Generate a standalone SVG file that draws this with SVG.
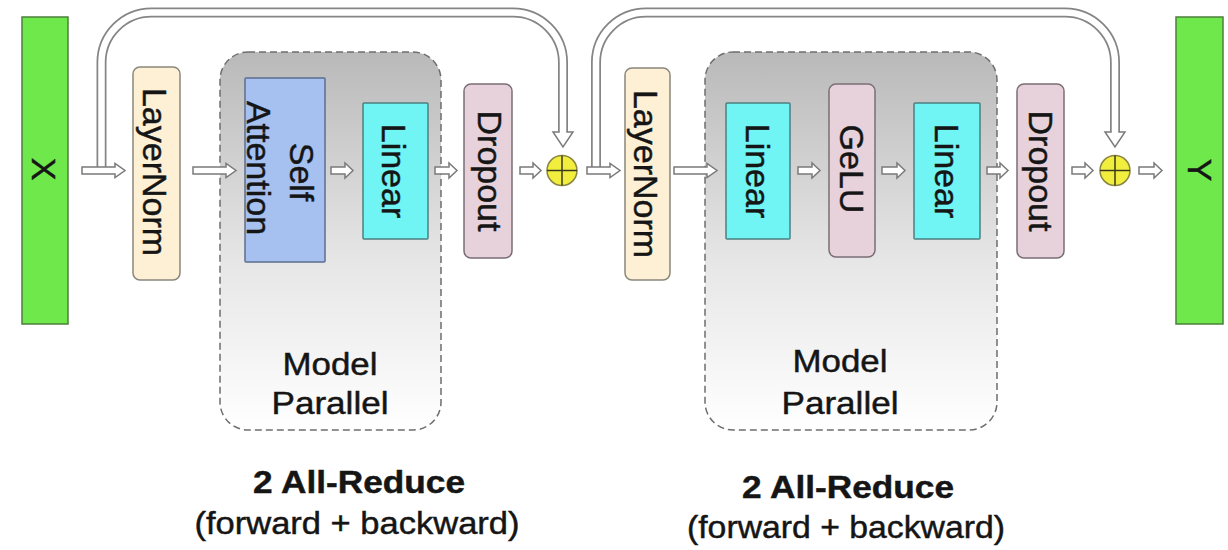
<svg xmlns="http://www.w3.org/2000/svg" width="1228" height="550" viewBox="0 0 1228 550">
<defs>
<linearGradient id="mpg" x1="0" y1="0" x2="0" y2="1">
<stop offset="0" stop-color="#b9b9b9"/>
<stop offset="0.55" stop-color="#e6e6e6"/>
<stop offset="1" stop-color="#ffffff"/>
</linearGradient>
</defs>
<style>
text{font-family:"Liberation Sans",Arial,sans-serif;fill:#151515;stroke:#151515;stroke-width:0.45}
.vt{font-size:34px;text-anchor:middle}
.mp{fill:url(#mpg);stroke:#6e6e6e;stroke-width:1.5;stroke-dasharray:7 4}
.mpt{font-size:31px;text-anchor:middle}
.io{fill:#6ee84a;stroke:#4c7f3c;stroke-width:1.5}
.ln{fill:#fdf0d4;stroke:#8a877c;stroke-width:1.5}
.sa{fill:#a6c1ef;stroke:#5d6d90;stroke-width:1.5}
.lin{fill:#70f4f4;stroke:#4d7f80;stroke-width:1.5}
.dp{fill:#e7d2dc;stroke:#7a6f75;stroke-width:1.5}
.add{fill:#f1ee3e;stroke:#8a8540;stroke-width:1.5}
.cross{stroke:#3a3a20;stroke-width:1.5}
.arr{fill:#ffffff;stroke:#7a7a7a;stroke-width:1.5;stroke-linejoin:miter}
.skipo{fill:none;stroke:#858585;stroke-width:10}
.skipi{fill:none;stroke:#ffffff;stroke-width:6.5}
.bt{font-size:31px;text-anchor:middle}
</style>
<rect width="1228" height="550" fill="#ffffff"/>

<g id="mp1">
<rect class="mp" x="220" y="52" width="221" height="378" rx="28"/>
<text class="mpt" x="330" y="375" textLength="95" lengthAdjust="spacingAndGlyphs">Model</text>
<text class="mpt" x="330" y="414" textLength="117" lengthAdjust="spacingAndGlyphs">Parallel</text>
</g>
<g id="mp2">
<rect class="mp" x="705" y="52" width="292" height="378" rx="28"/>
<text class="mpt" x="840" y="372" textLength="95" lengthAdjust="spacingAndGlyphs">Model</text>
<text class="mpt" x="840" y="414" textLength="117" lengthAdjust="spacingAndGlyphs">Parallel</text>
</g>

<g id="connectors">
<path class="skipo" d="M101.5,167 V62.5 A50,50 0 0 1 151.5,12.5 H513 A50,50 0 0 1 563,62.5 V133"/>
<path class="arr" d="M553,132 H573 L563,147 Z"/>
<path class="skipi" d="M101.5,168 V62.5 A50,50 0 0 1 151.5,12.5 H513 A50,50 0 0 1 563,62.5 V134"/>
<path class="skipo" d="M596,167 V62.5 A50,50 0 0 1 646,12.5 H1065 A50,50 0 0 1 1115,62.5 V133"/>
<path class="arr" d="M1105,132 H1125 L1115,147 Z"/>
<path class="skipi" d="M596,168 V62.5 A50,50 0 0 1 646,12.5 H1065 A50,50 0 0 1 1115,62.5 V134"/>
<path class="arr" d="M82,167 H115 V163.5 L125,170.5 L115,177.5 V174 H82 Z"/>
<path class="arr" d="M193,167 H226 V163.5 L236,170.5 L226,177.5 V174 H193 Z"/>
<path class="arr" d="M331,167 H345 V163 L353,170.5 L345,178 V174 H331 Z"/>
<path class="arr" d="M435,167 H449 V163 L457,170.5 L449,178 V174 H435 Z"/>
<path class="arr" d="M520,167 H533 V163 L541,170.5 L533,178 V174 H520 Z"/>
<path class="arr" d="M587,167 H610 V163.5 L620,170.5 L610,177.5 V174 H587 Z"/>
<path class="arr" d="M674,167 H707 V163.5 L717,170.5 L707,177.5 V174 H674 Z"/>
<path class="arr" d="M798,167 H812 V163 L820,170.5 L812,178 V174 H798 Z"/>
<path class="arr" d="M882,167 H897 V163 L905,170.5 L897,178 V174 H882 Z"/>
<path class="arr" d="M987,167 H1000 V163 L1008,170.5 L1000,178 V174 H987 Z"/>
<path class="arr" d="M1072,167 H1085 V163 L1093,170.5 L1085,178 V174 H1072 Z"/>
<path class="arr" d="M1139,167 H1154 V163 L1162,170.5 L1154,178 V174 H1139 Z"/>
</g>

<g id="x">
<rect class="io" x="22" y="17" width="46" height="307"/>
<text class="vt" transform="translate(32,169) rotate(90)">X</text>
</g>
<g id="ln1">
<rect class="ln" x="133" y="67" width="47" height="213" rx="7"/>
<text class="vt" transform="translate(143,172) rotate(90)">LayerNorm</text>
</g>
<g id="sa">
<rect class="sa" x="245" y="78" width="80" height="184" rx="1"/>
<text class="vt" transform="translate(290,172) rotate(90)">Self</text>
<text class="vt" transform="translate(247,168) rotate(90)">Attention</text>
</g>
<g id="lin1">
<rect class="lin" x="363" y="103" width="65" height="136" rx="1"/>
<text class="vt" transform="translate(382,171) rotate(90)">Linear</text>
</g>
<g id="drop1">
<rect class="dp" x="464" y="84" width="48" height="174" rx="7"/>
<text class="vt" transform="translate(478,171) rotate(90)">Dropout</text>
</g>
<g id="add1">
<circle class="add" cx="562" cy="170.5" r="15"/>
<line class="cross" x1="547" y1="170.5" x2="577" y2="170.5"/>
<line class="cross" x1="562" y1="155.5" x2="562" y2="185.5"/>
</g>
<g id="ln2">
<rect class="ln" x="625" y="68" width="45" height="212" rx="7"/>
<text class="vt" transform="translate(634,174) rotate(90)">LayerNorm</text>
</g>
<g id="lin2a">
<rect class="lin" x="726" y="103" width="64" height="136" rx="1"/>
<text class="vt" transform="translate(746,171) rotate(90)">Linear</text>
</g>
<g id="gelu">
<rect class="dp" x="829" y="84" width="46" height="173" rx="7"/>
<text class="vt" transform="translate(840,169) rotate(90)">GeLU</text>
</g>
<g id="lin2b">
<rect class="lin" x="914" y="103" width="66" height="136" rx="1"/>
<text class="vt" transform="translate(935,171) rotate(90)">Linear</text>
</g>
<g id="drop2">
<rect class="dp" x="1017" y="84" width="47" height="174" rx="7"/>
<text class="vt" transform="translate(1029,171) rotate(90)">Dropout</text>
</g>
<g id="add2">
<circle class="add" cx="1115" cy="170.5" r="15"/>
<line class="cross" x1="1100" y1="170.5" x2="1130" y2="170.5"/>
<line class="cross" x1="1115" y1="155.5" x2="1115" y2="185.5"/>
</g>
<g id="y">
<rect class="io" x="1176" y="17" width="47" height="307"/>
<text class="vt" transform="translate(1188,170) rotate(90)">Y</text>
</g>

<g id="notes">
<text class="bt" x="359" y="493" font-weight="bold" textLength="212" lengthAdjust="spacingAndGlyphs">2 All-Reduce</text>
<text class="bt" x="357" y="534" textLength="325" lengthAdjust="spacingAndGlyphs">(forward + backward)</text>
<text class="bt" x="848" y="498" font-weight="bold" textLength="212" lengthAdjust="spacingAndGlyphs">2 All-Reduce</text>
<text class="bt" x="846" y="538" textLength="318" lengthAdjust="spacingAndGlyphs">(forward + backward)</text>
</g>
</svg>
